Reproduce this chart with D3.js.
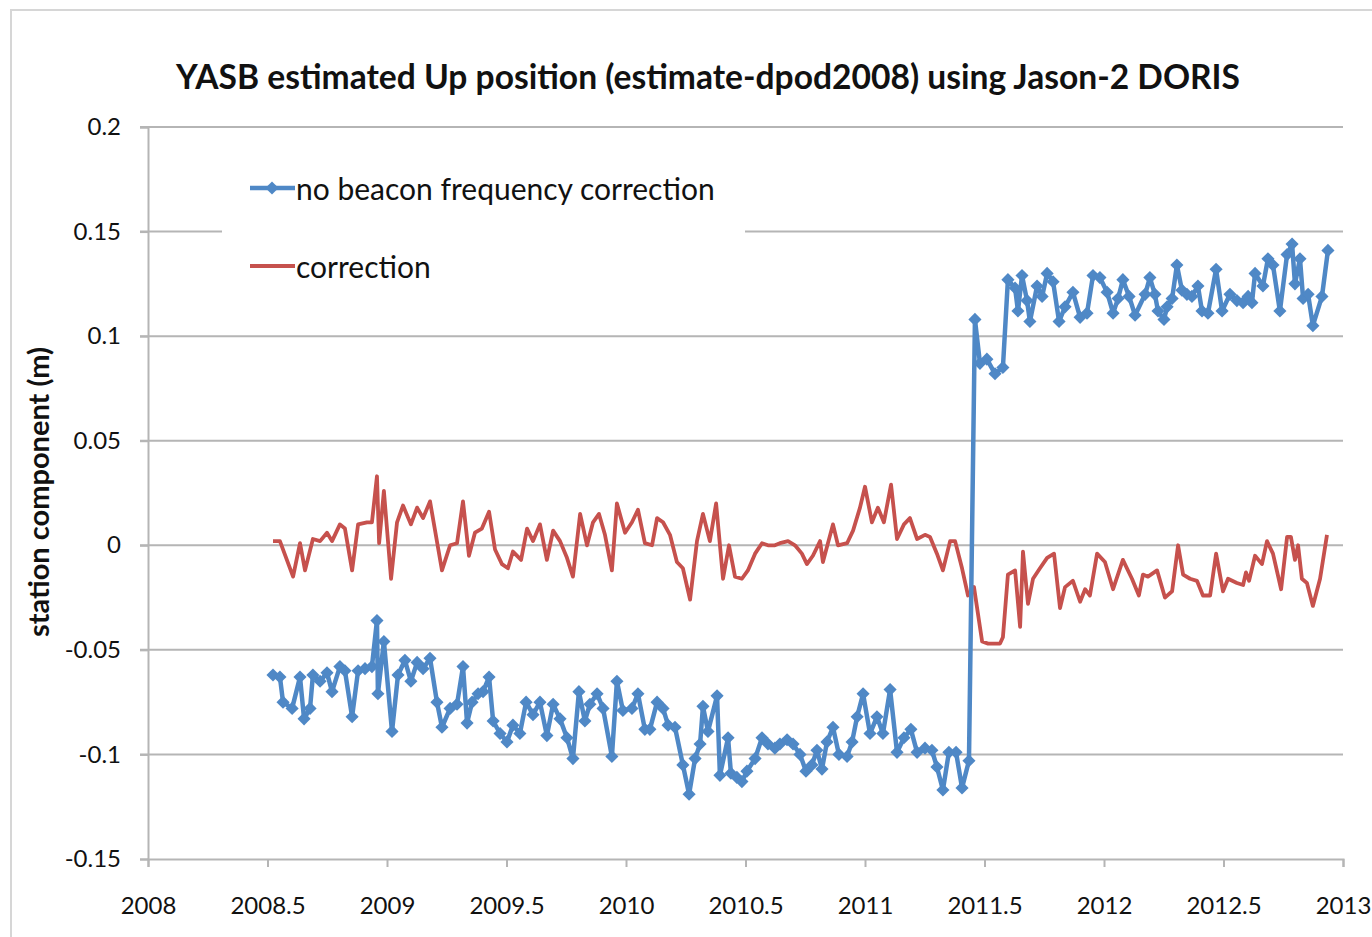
<!DOCTYPE html>
<html>
<head>
<meta charset="utf-8">
<script src="https://cdn.jsdelivr.net/npm/d3@7"></script>
<style>
  body { margin: 0; background: #fff; }
  svg { display: block; font-family: Lato, "Open Sans", sans-serif; }
</style>
</head>
<body>
<svg width="1372" height="937"></svg>
<script>
// no beacon frequency correction (blue, with markers)
var upYears = [2008.523,2008.552,2008.565,2008.603,2008.636,2008.653,2008.678,2008.690,2008.720,2008.749,
  2008.770,2008.803,2008.824,2008.854,2008.879,2008.908,2008.937,2008.958,2008.962,2008.987,
  2009.021,2009.046,2009.075,2009.100,2009.126,2009.151,2009.180,2009.209,2009.230,2009.264,
  2009.293,2009.318,2009.335,2009.356,2009.381,2009.402,2009.427,2009.444,2009.473,2009.502,
  2009.527,2009.556,2009.582,2009.611,2009.640,2009.669,2009.695,2009.724,2009.753,2009.778,
  2009.803,2009.828,2009.849,2009.879,2009.904,2009.941,2009.962,2009.987,2010.025,2010.050,
  2010.079,2010.100,2010.130,2010.155,2010.176,2010.205,2010.238,2010.264,2010.289,2010.310,
  2010.322,2010.343,2010.381,2010.393,2010.427,2010.439,2010.464,2010.485,2010.506,2010.540,
  2010.569,2010.594,2010.623,2010.644,2010.674,2010.699,2010.728,2010.753,2010.778,2010.799,
  2010.820,2010.841,2010.866,2010.891,2010.925,2010.946,2010.967,2010.992,2011.021,2011.050,
  2011.075,2011.105,2011.134,2011.163,2011.192,2011.218,2011.251,2011.280,2011.301,2011.326,
  2011.351,2011.381,2011.406,2011.435,2011.460,2011.481,2011.510,2011.544,2011.577,2011.598,
  2011.628,2011.640,2011.657,2011.678,2011.690,2011.720,2011.741,2011.762,2011.787,2011.812,
  2011.837,2011.870,2011.900,2011.929,2011.954,2011.983,2012.013,2012.038,2012.059,2012.079,
  2012.105,2012.130,2012.172,2012.192,2012.213,2012.226,2012.251,2012.264,2012.285,2012.305,
  2012.326,2012.347,2012.368,2012.393,2012.410,2012.435,2012.469,2012.494,2012.527,2012.556,
  2012.582,2012.603,2012.619,2012.632,2012.665,2012.686,2012.707,2012.736,2012.766,2012.787,
  2012.799,2012.820,2012.833,2012.854,2012.874,2012.912,2012.937];
var upValues = [-0.062,-0.063,-0.075,-0.078,-0.063,-0.083,-0.078,-0.062,-0.065,-0.061,
  -0.070,-0.058,-0.060,-0.082,-0.060,-0.059,-0.058,-0.036,-0.071,-0.046,
  -0.089,-0.062,-0.055,-0.065,-0.056,-0.059,-0.054,-0.075,-0.087,-0.078,
  -0.076,-0.058,-0.085,-0.075,-0.071,-0.070,-0.063,-0.084,-0.090,-0.094,
  -0.086,-0.090,-0.075,-0.081,-0.075,-0.091,-0.076,-0.083,-0.092,-0.102,
  -0.070,-0.084,-0.076,-0.071,-0.078,-0.101,-0.065,-0.079,-0.078,-0.071,
  -0.088,-0.088,-0.075,-0.078,-0.086,-0.087,-0.105,-0.119,-0.102,-0.095,
  -0.077,-0.089,-0.072,-0.110,-0.092,-0.109,-0.111,-0.113,-0.108,-0.102,
  -0.092,-0.095,-0.097,-0.095,-0.093,-0.095,-0.100,-0.108,-0.105,-0.098,
  -0.107,-0.094,-0.087,-0.100,-0.101,-0.094,-0.082,-0.071,-0.090,-0.082,
  -0.090,-0.069,-0.099,-0.092,-0.088,-0.099,-0.097,-0.098,-0.106,-0.117,
  -0.099,-0.099,-0.116,-0.103,0.108,0.087,0.089,0.082,0.085,0.127,
  0.123,0.112,0.129,0.117,0.107,0.124,0.119,0.130,0.126,0.107,
  0.114,0.121,0.109,0.111,0.129,0.128,0.121,0.111,0.118,0.127,
  0.119,0.110,0.120,0.128,0.120,0.112,0.108,0.114,0.118,0.134,
  0.122,0.120,0.119,0.124,0.112,0.111,0.132,0.112,0.120,0.117,
  0.116,0.119,0.116,0.130,0.124,0.137,0.134,0.112,0.139,0.144,
  0.125,0.137,0.118,0.120,0.105,0.119,0.141];

// correction (red)
var corrYears = [2008.523,2008.552,2008.607,2008.636,2008.657,2008.690,2008.720,2008.749,2008.770,2008.803,
  2008.824,2008.854,2008.879,2008.916,2008.937,2008.958,2008.967,2008.987,2009.017,2009.042,
  2009.067,2009.100,2009.126,2009.151,2009.180,2009.230,2009.264,2009.293,2009.318,2009.343,
  2009.368,2009.397,2009.427,2009.452,2009.481,2009.506,2009.527,2009.561,2009.586,2009.611,
  2009.640,2009.669,2009.695,2009.724,2009.753,2009.778,2009.808,2009.837,2009.862,2009.887,
  2009.912,2009.941,2009.962,2009.996,2010.025,2010.050,2010.079,2010.109,2010.130,2010.155,
  2010.184,2010.213,2010.238,2010.268,2010.297,2010.322,2010.351,2010.377,2010.406,2010.431,
  2010.456,2010.485,2010.510,2010.540,2010.569,2010.594,2010.623,2010.644,2010.678,2010.707,
  2010.736,2010.757,2010.782,2010.812,2010.824,2010.866,2010.887,2010.925,2010.950,2010.979,
  2011.000,2011.029,2011.054,2011.079,2011.109,2011.134,2011.163,2011.188,2011.218,2011.251,
  2011.272,2011.301,2011.326,2011.356,2011.377,2011.406,2011.431,2011.456,2011.490,2011.515,
  2011.565,2011.577,2011.598,2011.628,2011.649,2011.661,2011.682,2011.703,2011.732,2011.762,
  2011.791,2011.816,2011.837,2011.870,2011.900,2011.921,2011.941,2011.971,2012.004,2012.038,
  2012.079,2012.117,2012.146,2012.163,2012.184,2012.222,2012.255,2012.285,2012.310,2012.331,
  2012.360,2012.389,2012.414,2012.444,2012.469,2012.498,2012.519,2012.556,2012.582,2012.594,
  2012.607,2012.632,2012.661,2012.682,2012.707,2012.741,2012.766,2012.782,2012.799,2012.812,
  2012.828,2012.849,2012.874,2012.904,2012.933];
var corrValues = [0.002,0.002,-0.015,0.001,-0.012,0.003,0.002,0.006,0.002,0.010,
  0.008,-0.012,0.010,0.011,0.011,0.033,0.001,0.026,-0.016,0.011,
  0.019,0.010,0.018,0.013,0.021,-0.012,0.000,0.001,0.021,-0.005,
  0.006,0.008,0.016,-0.002,-0.009,-0.011,-0.003,-0.007,0.008,0.002,
  0.010,-0.007,0.007,0.002,-0.006,-0.015,0.015,0.000,0.011,0.015,
  0.005,-0.012,0.020,0.006,0.011,0.017,0.001,0.000,0.013,0.011,
  0.005,-0.008,-0.011,-0.026,0.002,0.015,0.002,0.020,-0.016,0.000,
  -0.015,-0.016,-0.012,-0.004,0.001,0.000,0.000,0.001,0.002,0.000,
  -0.004,-0.009,-0.005,0.002,-0.008,0.010,0.000,0.001,0.007,0.018,
  0.028,0.011,0.018,0.011,0.029,0.003,0.010,0.013,0.003,0.005,
  0.004,-0.004,-0.012,0.002,0.002,-0.011,-0.024,-0.020,-0.046,-0.047,
  -0.047,-0.044,-0.014,-0.012,-0.039,-0.003,-0.028,-0.016,-0.011,-0.006,
  -0.004,-0.030,-0.020,-0.017,-0.027,-0.021,-0.024,-0.004,-0.008,-0.021,
  -0.007,-0.016,-0.024,-0.014,-0.015,-0.012,-0.025,-0.022,0.000,-0.014,
  -0.016,-0.017,-0.024,-0.024,-0.004,-0.022,-0.016,-0.018,-0.019,-0.013,
  -0.017,-0.005,-0.009,0.002,-0.004,-0.021,0.004,0.004,-0.007,0.000,
  -0.016,-0.018,-0.029,-0.016,0.005];

var xTicks = [2008, 2008.5, 2009, 2009.5, 2010, 2010.5, 2011, 2011.5, 2012, 2012.5, 2013];
var yTicks = [-0.15, -0.1, -0.05, 0, 0.05, 0.1, 0.15, 0.2];

var blue = "#4f88c6", red = "#c6514d", grid = "#b5b5b5";

var svg = d3.select("svg");

var x = d3.scaleLinear().domain([2008, 2013]).range([148, 1343]);
var y = d3.scaleLinear().domain([-0.15, 0.2]).range([859, 127]);

// outer chart frame (only left and top edges visible)
svg.append("rect")
    .attr("x", 11).attr("y", 10)
    .attr("width", 1500).attr("height", 1100)
    .attr("fill", "none").attr("stroke", "#d6d6d6").attr("stroke-width", 2);

svg.append("text")
    .attr("x", 708).attr("y", 89)
    .attr("text-anchor", "middle")
    .attr("font-size", 33.6).attr("font-weight", "bold")
    .attr("fill", "#111")
    .text("YASB estimated Up position (estimate-dpod2008) using Jason-2 DORIS");

// gridlines
svg.append("g")
    .selectAll("line")
    .data(yTicks.filter(d => d > -0.15))
    .join("line")
    .attr("x1", 140).attr("x2", 1343)
    .attr("y1", d => y(d)).attr("y2", d => y(d))
    .attr("stroke", grid).attr("stroke-width", 2);

var yAxis = d3.axisLeft(y).tickValues(yTicks).tickSize(8).tickPadding(19)
    .tickFormat(d => String(+d.toFixed(2)));
var yg = svg.append("g")
    .attr("transform", "translate(148,0)")
    .call(yAxis);

var xAxis = d3.axisBottom(x).tickValues(xTicks).tickSize(8).tickPadding(30)
    .tickFormat(d => String(d));
var xg = svg.append("g")
    .attr("transform", "translate(0,859)")
    .call(xAxis);

[yg, xg].forEach(g => {
    g.select(".domain").attr("stroke", grid).attr("stroke-width", 2);
    g.selectAll(".tick line").attr("stroke", grid).attr("stroke-width", 2);
    g.selectAll(".tick text").attr("font-size", 24).attr("fill", "#111")
        .attr("font-family", "Lato, 'Open Sans', sans-serif");
});

svg.append("text")
    .attr("transform", "translate(49,492) rotate(-90)")
    .attr("text-anchor", "middle")
    .attr("font-size", 29).attr("font-weight", "bold")
    .attr("fill", "#111")
    .text("station component (m)");

var upData = upYears.map((d, i) => [d, upValues[i]]);
var corrData = corrYears.map((d, i) => [d, corrValues[i]]);

var line = d3.line().x(d => x(d[0])).y(d => y(d[1]));

svg.append("path")
    .datum(corrData)
    .attr("d", line)
    .attr("fill", "none").attr("stroke", red).attr("stroke-width", 3.8)
    .attr("stroke-linejoin", "round");

svg.append("path")
    .datum(upData)
    .attr("d", line)
    .attr("fill", "none").attr("stroke", blue).attr("stroke-width", 4.5)
    .attr("stroke-linejoin", "round");

var diamond = d3.symbol().type(d3.symbolDiamond2).size(110);

svg.append("g")
    .selectAll("path")
    .data(upData)
    .join("path")
    .attr("transform", d => "translate(" + x(d[0]) + "," + y(d[1]) + ")")
    .attr("d", diamond)
    .attr("fill", blue);

// legend
var legend = svg.append("g");
legend.append("rect")
    .attr("x", 222).attr("y", 160).attr("width", 523).attr("height", 130)
    .attr("fill", "#fff");
legend.append("line")
    .attr("x1", 250).attr("x2", 295).attr("y1", 188).attr("y2", 188)
    .attr("stroke", blue).attr("stroke-width", 4.5);
legend.append("path")
    .attr("transform", "translate(272,188)")
    .attr("d", diamond).attr("fill", blue);
legend.append("text")
    .attr("x", 296).attr("y", 200)
    .attr("font-size", 30).attr("fill", "#111")
    .text("no beacon frequency correction");
legend.append("line")
    .attr("x1", 250).attr("x2", 295).attr("y1", 266).attr("y2", 266)
    .attr("stroke", red).attr("stroke-width", 3.8);
legend.append("text")
    .attr("x", 296).attr("y", 278)
    .attr("font-size", 30).attr("fill", "#111")
    .text("correction");
</script>
</body>
</html>
